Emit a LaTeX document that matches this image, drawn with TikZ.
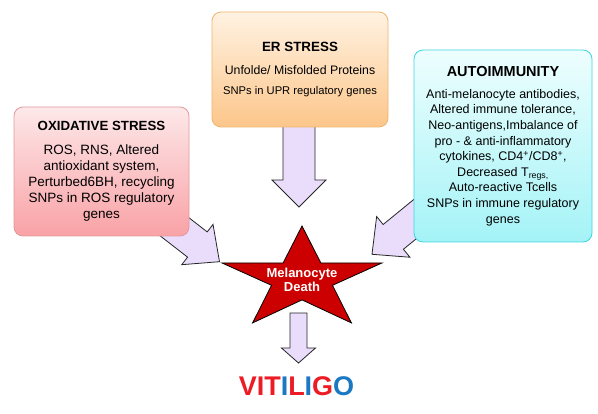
\documentclass[tikz,border=0pt]{standalone}
\usepackage{fontspec}
\setmainfont{Liberation Sans}
\usetikzlibrary{calc}
\definecolor{arrowfill}{HTML}{EADDFC}
\definecolor{oxtop}{HTML}{FDE8E9}
\definecolor{oxbot}{HTML}{F9A2A6}
\definecolor{oxborder}{HTML}{E29A9C}
\definecolor{ertop}{HTML}{FFF2E2}
\definecolor{erbot}{HTML}{FCC68A}
\definecolor{erborder}{HTML}{EFB56E}
\definecolor{autop}{HTML}{EEFEFE}
\definecolor{aubot}{HTML}{A4F3F7}
\definecolor{auborder}{HTML}{3FD6E0}
\definecolor{starred}{HTML}{CC0000}
\definecolor{vred}{HTML}{ED1C24}
\definecolor{vblue}{HTML}{1B78C2}
\tikzset{
  blockarr/.style={fill=arrowfill, draw=black!85, line width=0.8pt, line join=miter},
  causebox/.style={rounded corners=9pt, line width=0.8pt, align=center, inner sep=0pt, text=black},
  starshape/.style={fill=starred, draw=black, line width=0.8pt, line join=miter},
}
\newcommand{\blockarrow}[5]{%
  \coordinate (#1#2hb) at ($(#2)!#5!(#1)$);
  \draw[blockarr] ($(#1)!#3!90:(#2)$) -- ($(#1#2hb)!#3!90:(#2)$) -- ($(#1#2hb)!#4!90:(#2)$) -- (#2)
    -- ($(#1#2hb)!#4!-90:(#2)$) -- ($(#1#2hb)!#3!-90:(#2)$) -- ($(#1)!#3!-90:(#2)$) -- cycle;
}
\begin{document}
\begin{tikzpicture}[x=1pt,y=-1pt]
\useasboundingbox[fill=white] (0,0) rectangle (598,414);
% arrow end points
\coordinate (erS) at (299,118);
\coordinate (erT) at (299,207);
\coordinate (oxS) at (148.4,206.5);
\coordinate (oxT) at (219.5,261.7);
\coordinate (auS) at (441.7,197.3);
\coordinate (auT) at (372,254.3);
\coordinate (bS) at (298.5,313);
\coordinate (bT) at (298.5,363);
\blockarrow{erS}{erT}{16pt}{27pt}{27pt}
\blockarrow{oxS}{oxT}{16pt}{25.5pt}{28pt}
\blockarrow{auS}{auT}{16pt}{26.3pt}{27.5pt}
\blockarrow{bS}{bT}{8.5pt}{17pt}{15pt}
% boxes
\node[causebox, draw=oxborder, top color=oxtop, bottom color=oxbot,
      minimum width=175pt, minimum height=129pt, font=\fontsize{13.5}{16}\selectfont] (ox) at (101.5,171.5)
  {{\bfseries\fontsize{13.3}{16}\selectfont OXIDATIVE STRESS}\\[8pt]
   ROS, RNS, Altered\\ antioxidant system,\\ Perturbed6BH, recycling\\ SNPs in ROS regulatory\\ genes};
\node[causebox, draw=erborder, top color=ertop, bottom color=erbot,
      minimum width=176pt, minimum height=115pt, font=\fontsize{12.3}{20}\selectfont] (er) at (300,69.5)
  {{\bfseries\fontsize{13.4}{20}\selectfont ER STRESS}\\[3pt]
   Unfolde/ Misfolded Proteins\\ {\fontsize{11.2}{20}\selectfont SNPs in UPR regulatory genes}};
\node[causebox, draw=auborder, top color=autop, bottom color=aubot,
      minimum width=178pt, minimum height=192pt, font=\fontsize{12.5}{15.6}\selectfont] (au) at (503,146)
  {{\bfseries\fontsize{14.5}{15.6}\selectfont AUTOIMMUNITY}\\[6.4pt]
   Anti-melanocyte antibodies,\\ Altered immune tolerance,\\ Neo-antigens,Imbalance of\\
   pro - \& anti-inflammatory\\ cytokines, CD4\textsuperscript{+}/CD8\textsuperscript{+},\\
   Decreased T\textsubscript{regs,}\\ Auto-reactive Tcells\\ SNPs in immune regulatory\\ genes};
% star
\draw[starshape] (302,226) -- (320.9,263) -- (381.9,263) -- (332.5,285.3) -- (351.4,322.9)
  -- (302,299.9) -- (252.6,322.9) -- (271.5,285.3) -- (222.1,263) -- (283.1,263) -- cycle;
\node[align=center, text=white, font=\bfseries\fontsize{13}{14}\selectfont, inner sep=0pt] (star) at (302,280)
  {Melanocyte\\Death};
% result
\node[anchor=base, inner sep=0pt, font=\bfseries\fontsize{27}{30}\selectfont] (vit) at (296.5,396)
  {\textcolor{vred}{VIT}\textcolor{vblue}{I}\textcolor{vred}{L}\textcolor{vblue}{I}\textcolor{vred}{G}\textcolor{vblue}{O}};
\end{tikzpicture}
\end{document}
